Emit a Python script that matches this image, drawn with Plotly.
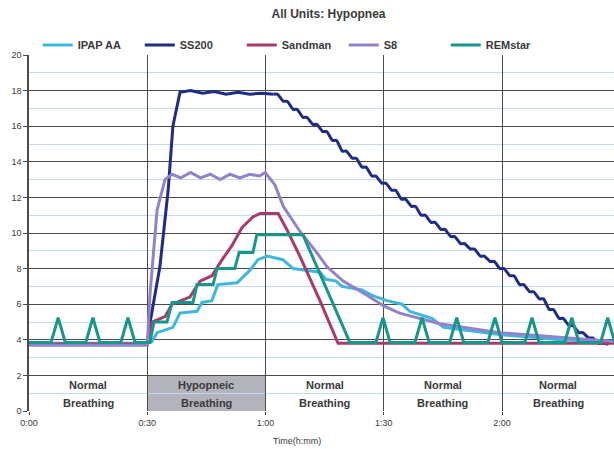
import plotly.graph_objects as go

# ---------------- data (time in seconds, value) ----------------
t_ipap = [0, 30, 31.2, 32.5, 36.5, 38.3, 42.6, 43.9, 46.4, 47.9, 52.8, 56.0, 58.1, 60.4,
          64.4, 67.0, 73.8, 75.3, 77.9, 79.4, 84.5, 87.0, 90.8, 94.6, 96.6, 102.2, 105.2,
          111.8, 119.4, 134.7, 148.4]
v_ipap = [3.8, 3.8, 3.9, 4.4, 4.7, 5.5, 5.6, 6.1, 6.2, 7.1, 7.2, 7.9, 8.5, 8.7,
          8.5, 8.0, 7.8, 7.4, 7.3, 7.0, 6.8, 6.5, 6.2, 6.0, 5.6, 5.2, 4.7,
          4.5, 4.3, 4.0, 3.9]

t_ss_rise = [0, 30, 30.5, 33.2, 35.3, 36.5, 38.3, 41, 44, 47, 50, 53, 56, 59, 62]
v_ss_rise = [3.75, 3.75, 4.7, 8.1, 12.4, 16.0, 17.9, 18.0, 17.85, 17.95, 17.8, 17.9, 17.8, 17.85, 17.8]
t_ss_fall = [62, 64.5, 67, 69.5, 72, 74.5, 77, 79.5, 82, 84.5, 87, 89.5, 92, 94.5, 97, 99.5,
             102, 104.5, 107, 109.5, 112, 114.5, 117, 119.5, 122, 124.5, 127, 129.5, 132,
             134.5, 137, 139.5, 142, 144.5, 147]
v_ss_fall = [17.8, 17.4, 16.95, 16.5, 16.1, 15.7, 15.2, 14.6, 14.2, 13.7, 13.2, 12.8, 12.4, 11.9,
             11.5, 11.0, 10.6, 10.2, 9.8, 9.4, 9.1, 8.7, 8.4, 8.0, 7.6, 7.1, 6.7, 6.3, 5.7,
             5.2, 4.8, 4.4, 4.1, 3.8, 3.75]

t_sand = [0, 30, 31.2, 34.5, 36.3, 40.8, 43.4, 46.4, 49.0, 51.5, 54.0, 56.8, 58.6, 63.2,
          65.4, 68.7, 73.8, 78.4, 148.4]
v_sand = [3.75, 3.75, 5.0, 5.3, 6.0, 6.4, 7.3, 7.6, 8.5, 9.3, 10.3, 10.9, 11.1, 11.1,
          10.2, 8.7, 6.2, 3.8, 3.8]

t_s8 = [0, 30, 30.7, 32.5, 34.5, 36.3, 38.5, 41, 43.5, 46, 48.5, 51, 53.5, 56, 58.5, 59.9,
        62.4, 64.5, 68.7, 73.0, 75.6, 79.7, 85.7, 90.0, 94.0, 104.2, 119.4, 136.4, 148.4]
v_s8 = [3.7, 3.7, 6.6, 11.3, 13.0, 13.3, 13.1, 13.4, 13.1, 13.3, 13.0, 13.3, 13.1, 13.3, 13.2, 13.4,
        12.7, 11.5, 10.1, 8.9, 8.1, 7.3, 6.5, 5.9, 5.5, 4.9, 4.4, 4.1, 3.9]

t_rem = [0, 5.6, 7.4, 9.2, 14.4, 16.2, 18.0, 23.3, 25.1, 26.9, 30, 30.7, 31.7, 35.0, 36.3,
         41.6, 42.6, 46.7, 47.7, 52.2, 53.3, 56.8, 57.8, 69.5, 81.4,
         88.0, 89.8, 91.6, 97.9, 99.7, 101.5, 106.7, 108.5, 110.3, 116.4, 118.2, 120.0,
         125.8, 127.6, 129.4, 135.9, 137.7, 139.5, 145.0, 146.8, 148.6]
v_rem = [3.85, 3.85, 5.25, 3.85, 3.85, 5.25, 3.85, 3.85, 5.25, 3.85, 3.85, 3.85, 5.0, 5.0, 6.1,
         6.1, 7.1, 7.1, 8.0, 8.0, 8.9, 8.9, 9.9, 9.9, 3.85,
         3.85, 5.25, 3.85, 3.85, 5.25, 3.85, 3.85, 5.25, 3.85, 3.85, 5.25, 3.85,
         3.85, 5.25, 3.85, 3.85, 5.25, 3.85, 3.85, 5.25, 3.85]

tick_vals = [0, 30, 60, 90, 120]
tick_text = ["0:00", "0:30", "1:00", "1:30", "2:00"]

section_centers = [15, 45, 75, 105, 134.2]
section_line1 = ["Normal", "Hypopneic", "Normal", "Normal", "Normal"]
section_line2 = ["Breathing", "Breathing", "Breathing", "Breathing", "Breathing"]

# ---------------- styling ----------------
C_IPAP = "#3db7dd"
C_SS = "#1f2c86"
C_SAND = "#a83a6c"
C_S8 = "#9282cc"
C_REM = "#17968a"
TXT = "#3a3a3a"
FONT = "Liberation Sans, Arial, sans-serif"
LW = 3

# SS200 descent is a fine staircase: hold each read value briefly, then slide to the next
ss_fall_x, ss_fall_y = [], []
for i, (tt, vv) in enumerate(zip(t_ss_fall, v_ss_fall)):
    ss_fall_x.append(tt)
    ss_fall_y.append(vv)
    if i < len(t_ss_fall) - 1:
        ss_fall_x.append(tt + 1.0)
        ss_fall_y.append(vv)

fig = go.Figure()
fig.add_trace(go.Scatter(x=t_ipap, y=v_ipap, mode="lines", name="IPAP AA",
                         line=dict(color=C_IPAP, width=LW)))
fig.add_trace(go.Scatter(x=t_ss_rise, y=v_ss_rise, mode="lines", name="SS200", legendgroup="ss",
                         line=dict(color=C_SS, width=LW)))
fig.add_trace(go.Scatter(x=ss_fall_x, y=ss_fall_y, mode="lines", name="SS200", legendgroup="ss",
                         showlegend=False, line=dict(color=C_SS, width=LW, shape="spline", smoothing=0.6)))
fig.add_trace(go.Scatter(x=t_sand, y=v_sand, mode="lines", name="Sandman",
                         line=dict(color=C_SAND, width=LW)))
fig.add_trace(go.Scatter(x=t_s8, y=v_s8, mode="lines", name="S8",
                         line=dict(color=C_S8, width=LW)))
fig.add_trace(go.Scatter(x=t_rem, y=v_rem, mode="lines", name="REMstar",
                         line=dict(color=C_REM, width=LW)))

# gray box behind hypopneic label
fig.add_shape(type="rect", xref="x", yref="y", x0=30, x1=60, y0=0, y1=2,
              fillcolor="#b3b3bb", line=dict(width=0), layer="below")

for xc, l1, l2 in zip(section_centers, section_line1, section_line2):
    fig.add_annotation(x=xc, y=1.46, xref="x", yref="y", text=l1, showarrow=False,
                       font=dict(family=FONT, size=11, color=TXT, weight="bold"))
    fig.add_annotation(x=xc, y=0.46, xref="x", yref="y", text=l2, showarrow=False,
                       font=dict(family=FONT, size=11, color=TXT, weight="bold"))

fig.add_annotation(x=68, y=-0.084, xref="x", yref="paper", text="Time(h:mm)", showarrow=False,
                   yanchor="middle", font=dict(family=FONT, size=9, color=TXT))

fig.update_layout(
    width=614, height=449,
    margin=dict(l=29, r=0, t=55, b=38),
    paper_bgcolor="white", plot_bgcolor="white",
    font=dict(family=FONT, size=9, color=TXT),
    title=dict(text="<b>All Units: Hypopnea</b>", x=0.535, xanchor="center", y=0.97, yanchor="middle",
               font=dict(family=FONT, size=12, color=TXT)),
    showlegend=True,
    legend=dict(orientation="h", x=0.015, y=1.028, xanchor="left", yanchor="middle",
                font=dict(family=FONT, size=11, color=TXT, weight="bold"),
                entrywidth=57, entrywidthmode="pixels", bgcolor="rgba(0,0,0,0)",
                itemclick=False),
    xaxis=dict(range=[0, 148.4], tickvals=tick_vals, ticktext=tick_text,
               showgrid=True, gridcolor="#4a4a4a", gridwidth=1.4,
               showline=False, zeroline=False, ticks="outside", ticklen=3, tickcolor="#4a4a4a",
               tickfont=dict(family=FONT, size=9, color=TXT), fixedrange=True),
    yaxis=dict(range=[0, 20], dtick=2, tick0=0,
               showgrid=True, gridcolor="#4a4a4a", gridwidth=1.4,
               minor=dict(dtick=1, showgrid=True, gridcolor="#c2daee", gridwidth=1),
               showline=True, linecolor="#4a4a4a", linewidth=1.5,
               zeroline=False, ticks="outside", ticklen=4, tickcolor="#4a4a4a",
               tickfont=dict(family=FONT, size=9, color=TXT), fixedrange=True),
)

fig.write_html("out.html", config={"displayModeBar": False},
               post_script="document.body.style.margin='0';")
